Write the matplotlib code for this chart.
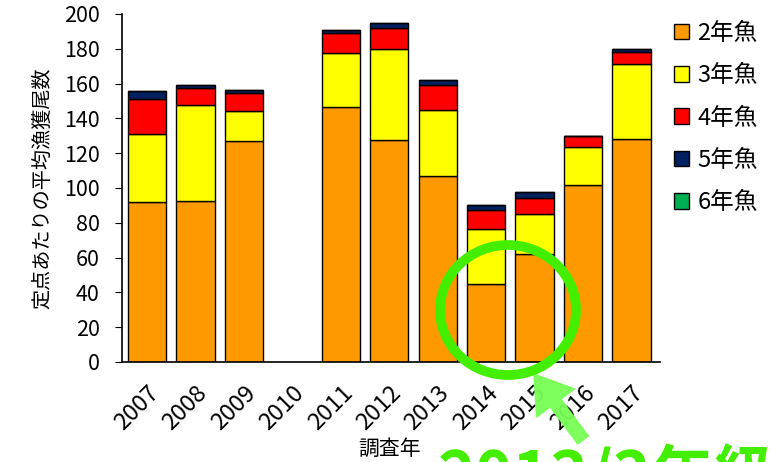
import numpy as np
import matplotlib
matplotlib.use('Agg')
import matplotlib.pyplot as plt
from matplotlib.patches import Ellipse

plt.rcParams['font.family'] = ['Noto Sans CJK JP', 'DejaVu Sans']

# data (2010: no survey)
years = [2007, 2008, 2009, 2011, 2012, 2013, 2014, 2015, 2016, 2017]
tick_years = list(range(2007, 2018))
age2 = [92, 92.5, 127, 146.3, 127.7, 107, 45, 62, 101.5, 128]
age3 = [39, 55, 17, 31, 52.3, 38, 31.5, 23, 22.3, 43]
age4 = [20, 10, 10.5, 11.5, 12, 14, 11, 9.5, 6, 7]
age5 = [5, 1.5, 1.7, 2, 3, 3.3, 3, 3, 0, 2]
age6 = [0, 0, 0, 0, 0, 0, 0, 0, 0, 0]

series = [age2, age3, age4, age5, age6]
labels = ['2年魚', '3年魚', '4年魚', '5年魚', '6年魚']
colors = ['#FF9900', '#FFFF00', '#FF0000', '#002060', '#00B050']

fig = plt.figure(figsize=(7.76, 4.62), dpi=100)
ax = fig.add_axes([122/776, 1 - 362/462, (660 - 122)/776, (362 - 14)/462])

bottom = np.zeros(len(years))
handles = []
for vals, lab, col in zip(series, labels, colors):
    vals = np.array(vals, dtype=float)
    b = ax.bar(years, vals, width=0.79, bottom=bottom, color=col,
               edgecolor='black', linewidth=1.0, label=lab)
    handles.append(b)
    bottom += vals

ax.set_xlim(2006.48, 2017.59)
ax.set_ylim(0, 200)
ax.set_yticks(range(0, 201, 20))
ax.set_xticks(tick_years)
ax.set_xticklabels([str(y) for y in tick_years], rotation=45, ha='right',
                   rotation_mode='anchor', fontsize=17)
ax.tick_params(axis='x', length=0, pad=14)
ax.tick_params(axis='y', direction='out', length=5, labelsize=15.5, pad=11)
for s in ['top', 'right']:
    ax.spines[s].set_visible(False)
ax.spines['left'].set_linewidth(1.2)
ax.spines['bottom'].set_linewidth(1.2)

ax.set_ylabel('定点あたりの平均漁獲尾数', fontsize=14.5, labelpad=8)
fig.text(390/776, 1 - 449/462, '調査年', fontsize=15, ha='center', va='center')

leg = fig.legend(handles=handles, labels=labels, loc='upper left',
                 bbox_to_anchor=(662/776, 1 - 10/462), frameon=False,
                 fontsize=17, handlelength=0.65, handleheight=0.65,
                 handletextpad=0.35, labelspacing=0.82, borderpad=0)

# annotation: green circle, arrow and caption
green = '#44EE00'
circle = Ellipse((508/776, 1 - 310/462), 136/776, 130/462, transform=fig.transFigure,
                 fill=False, edgecolor=green, linewidth=7, zorder=10)
fig.patches.append(circle)

ax.annotate('', xy=(534, 462 - 374), xytext=(583, 462 - 440),
            xycoords='figure pixels', textcoords='figure pixels',
            arrowprops=dict(arrowstyle='simple,head_length=2.6,head_width=3.4,tail_width=0.95',
                            color='#77FF55', alpha=0.95, mutation_scale=10, shrinkA=0, shrinkB=0),
            annotation_clip=False, zorder=11)

fig.text(438/776, -36/462, '2013/3年級群', fontsize=46, fontweight='bold',
         color=green, ha='left', va='baseline')

fig.savefig('out.png', dpi=100)
